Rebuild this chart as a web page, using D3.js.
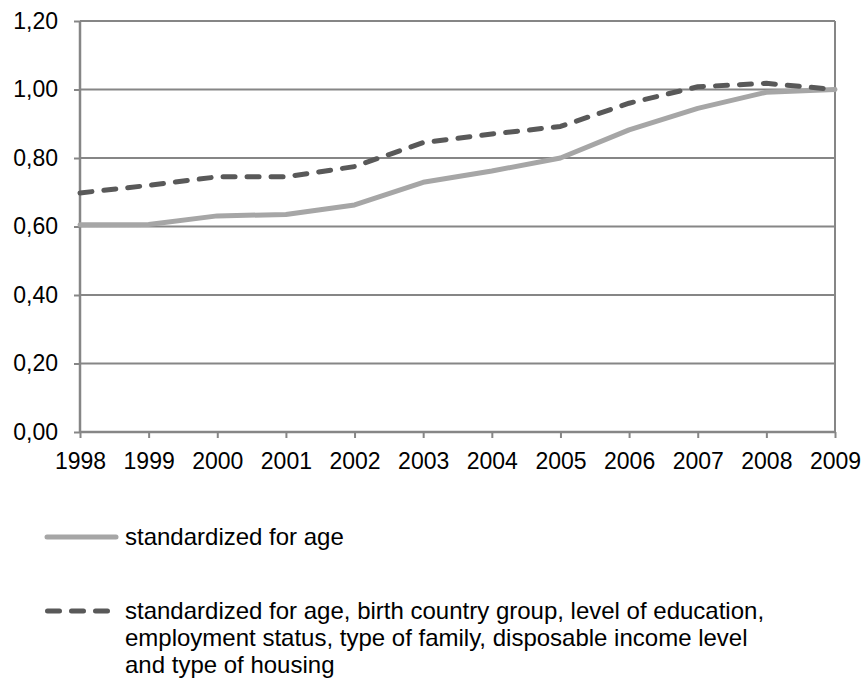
<!DOCTYPE html>
<html>
<head>
<meta charset="utf-8">
<script src="https://cdn.jsdelivr.net/npm/d3@7"></script>
<style>
  html, body { margin: 0; padding: 0; background: #fff; }
  svg { display: block; }
  text { font-family: "Liberation Sans", Arial, sans-serif; fill: #000; }
</style>
</head>
<body>
<svg id="chart" width="867" height="680"></svg>
<script>
const years = ["1998","1999","2000","2001","2002","2003","2004","2005","2006","2007","2008","2009"];
const ageOnly = [0.605, 0.606, 0.631, 0.635, 0.663, 0.729, 0.762, 0.800, 0.882, 0.945, 0.992, 1.000];
const allFactors = [0.698, 0.720, 0.745, 0.745, 0.775, 0.845, 0.870, 0.892, 0.960, 1.008, 1.018, 1.000];
const yTicks = [0, 0.2, 0.4, 0.6, 0.8, 1.0, 1.2];
const legendLabels = [
  ["standardized for age"],
  ["standardized for age, birth country group, level of education,",
   "employment status, type of family, disposable income level",
   "and type of housing"]
];

const svg = d3.select("#chart");
const mLeft = 80, mRight = 835, mTop = 21, mBottom = 432;
const x = d3.scalePoint().domain(years).range([mLeft, mRight]);
const y = d3.scaleLinear().domain([0, 1.2]).range([mBottom, mTop]);
const fmt = v => d3.format(".2f")(v).replace(".", ",");
const axisColor = "#868686";
const tickFont = 23;
const legendFont = 24;

// gridlines
svg.append("g")
  .selectAll("line").data(yTicks.filter(d => d > 0)).join("line")
  .attr("x1", mLeft).attr("x2", mRight)
  .attr("y1", d => y(d)).attr("y2", d => y(d))
  .attr("stroke", axisColor).attr("stroke-width", 2);

// right border
svg.append("line")
  .attr("x1", mRight).attr("x2", mRight).attr("y1", y(1.2)).attr("y2", y(0))
  .attr("stroke", axisColor).attr("stroke-width", 2);

// y axis
const yAxis = svg.append("g").attr("transform", `translate(${mLeft},0)`)
  .call(d3.axisLeft(y).tickValues(yTicks).tickFormat(fmt).tickSize(6).tickPadding(16));
yAxis.select(".domain").attr("stroke", axisColor).attr("stroke-width", 2.5).attr("d", `M0,${mTop}V${mBottom}`);
yAxis.selectAll(".tick line").attr("stroke", axisColor).attr("stroke-width", 2);
yAxis.selectAll(".tick text").attr("font-size", tickFont).attr("fill", "#000");

// x axis
const xAxis = svg.append("g").attr("transform", `translate(0,${mBottom})`)
  .call(d3.axisBottom(x).tickSize(6).tickPadding(15));
xAxis.select(".domain").attr("stroke", axisColor).attr("stroke-width", 2.5).attr("d", `M${mLeft},0H${mRight}`);
xAxis.selectAll(".tick line").attr("stroke", axisColor).attr("stroke-width", 2);
xAxis.selectAll(".tick text").attr("font-size", tickFont).attr("fill", "#000");

// lines
const line = d3.line().x((d, i) => x(years[i])).y(d => y(d));
svg.append("path").datum(ageOnly)
  .attr("d", line).attr("fill", "none")
  .attr("stroke", "#a6a6a6").attr("stroke-width", 5)
  .attr("stroke-linejoin", "round").attr("stroke-linecap", "round");
svg.append("path").datum(allFactors)
  .attr("d", line).attr("fill", "none")
  .attr("stroke", "#595959").attr("stroke-width", 5)
  .attr("stroke-dasharray", "12,12")
  .attr("stroke-linejoin", "round").attr("stroke-linecap", "round");

// legend
const lg = svg.append("g");
lg.append("line").attr("x1", 47).attr("x2", 116).attr("y1", 537).attr("y2", 537)
  .attr("stroke", "#a6a6a6").attr("stroke-width", 5).attr("stroke-linecap", "round");
lg.append("text").attr("x", 125).attr("y", 545).attr("font-size", legendFont)
  .text(legendLabels[0][0]);

lg.append("line").attr("x1", 47.5).attr("x2", 112).attr("y1", 611).attr("y2", 611)
  .attr("stroke", "#595959").attr("stroke-width", 5)
  .attr("stroke-dasharray", "12,12").attr("stroke-linecap", "round");
const t2 = lg.append("text").attr("x", 125).attr("y", 619).attr("font-size", legendFont);
legendLabels[1].forEach((s, i) => {
  t2.append("tspan").attr("x", 125).attr("y", 619 + i * 27).text(s);
});
</script>
</body>
</html>
